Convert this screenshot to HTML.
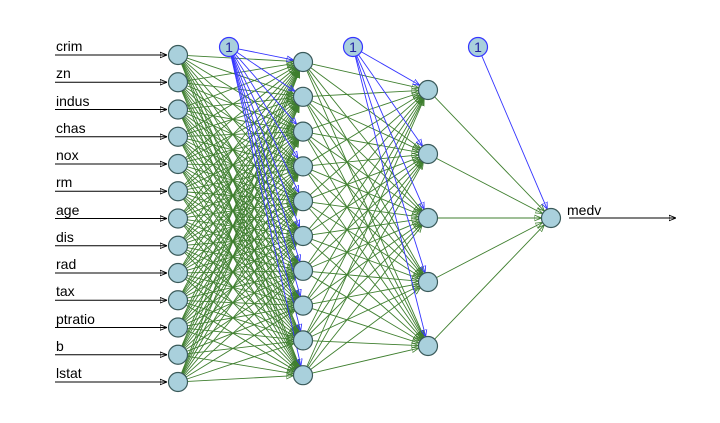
<!DOCTYPE html>
<html><head><meta charset="utf-8"><style>
body{margin:0;background:#fff;width:720px;height:423px;overflow:hidden}
svg{display:block}
text{font-family:"Liberation Sans",sans-serif}
</style></head><body>
<svg id="s" width="720" height="423" xmlns="http://www.w3.org/2000/svg">
<defs>
<marker id="ag" viewBox="0 0 10 10" refX="10" refY="5" markerWidth="7" markerHeight="7" orient="auto" markerUnits="userSpaceOnUse"><path d="M0,1 L10,5 L0,9 Z" fill="none" stroke="#3f7f2f" stroke-width="1.2"/></marker>
<marker id="ab" viewBox="0 0 10 10" refX="10" refY="5" markerWidth="7" markerHeight="7" orient="auto" markerUnits="userSpaceOnUse"><path d="M0,1 L10,5 L0,9 Z" fill="none" stroke="#3030ff" stroke-width="1.2"/></marker>
<marker id="ak" viewBox="0 0 10 10" refX="10" refY="5" markerWidth="7" markerHeight="7" orient="auto" markerUnits="userSpaceOnUse"><path d="M0,1 L10,5 L0,9 Z" fill="none" stroke="#000" stroke-width="1.2"/></marker>
</defs>
<g id="lines"></g>
<g id="nodes"></g>
<g font-size="14" fill="#000">
<text x="56" y="51">crim</text><text x="56" y="78">zn</text><text x="56" y="106">indus</text>
<text x="56" y="133">chas</text><text x="56" y="160">nox</text><text x="56" y="187">rm</text>
<text x="56" y="215">age</text><text x="56" y="242">dis</text><text x="56" y="269">rad</text>
<text x="56" y="296">tax</text><text x="56" y="324">ptratio</text><text x="56" y="351">b</text>
<text x="56" y="378">lstat</text>
<text x="567" y="215">medv</text>
<text x="229" y="52" text-anchor="middle" fill="#2020a0">1</text>
<text x="353" y="52" text-anchor="middle" fill="#2020a0">1</text>
<text x="478" y="52" text-anchor="middle" fill="#2020a0">1</text>
</g>
</svg>
<script>
var NS="http://www.w3.org/2000/svg",L=document.getElementById("lines"),N=document.getElementById("nodes");
function ln(x1,y1,x2,y2,c,m,w){var e=document.createElementNS(NS,"line");e.setAttribute("x1",x1);e.setAttribute("y1",y1);e.setAttribute("x2",x2);e.setAttribute("y2",y2);e.setAttribute("stroke",c);e.setAttribute("stroke-width",w||0.9);if(m)e.setAttribute("marker-end","url(#"+m+")");L.appendChild(e);}
function edge(a,b,c,m){var dx=b[0]-a[0],dy=b[1]-a[1],d=Math.sqrt(dx*dx+dy*dy),r=9.5;ln(a[0]+dx/d*r,a[1]+dy/d*r,b[0]-dx/d*r,b[1]-dy/d*r,c,m);}
function circ(x,y,f,s){var e=document.createElementNS(NS,"circle");e.setAttribute("cx",x);e.setAttribute("cy",y);e.setAttribute("r",9.5);e.setAttribute("fill",f);e.setAttribute("stroke",s);e.setAttribute("stroke-width",1.2);N.appendChild(e);}
var I=[],H1=[],H2=[],O=[551,218],i,j;
for(i=0;i<13;i++)I.push([178,55+i*27.25]);
for(i=0;i<10;i++)H1.push([303,62+i*34.8]);
for(i=0;i<5;i++)H2.push([428,90+i*64]);
var B=[[229,47],[353,47],[478,47]];
var G="#3f7f2f",BL="#3535ff";
for(i=0;i<13;i++){ln(55,I[i][1],167,I[i][1],"#000","ak",1);}
ln(569,218,676,218,"#000","ak",1);
for(i=0;i<13;i++)for(j=0;j<10;j++)edge(I[i],H1[j],G,"ag");
for(i=0;i<10;i++)for(j=0;j<5;j++)edge(H1[i],H2[j],G,"ag");
for(i=0;i<5;i++)edge(H2[i],O,G,"ag");
for(j=0;j<10;j++)edge(B[0],H1[j],BL,"ab");
for(j=0;j<5;j++)edge(B[1],H2[j],BL,"ab");
edge(B[2],O,BL,"ab");
I.concat(H1,H2,[O]).forEach(function(p){circ(p[0],p[1],"#a9d0dc","#3a5a5a");});
B.forEach(function(p){circ(p[0],p[1],"#a9d0dc","#3535ff");});
var t=document.querySelector("svg > g:last-of-type");document.getElementById("s").appendChild(t);
</script>
</body></html>
